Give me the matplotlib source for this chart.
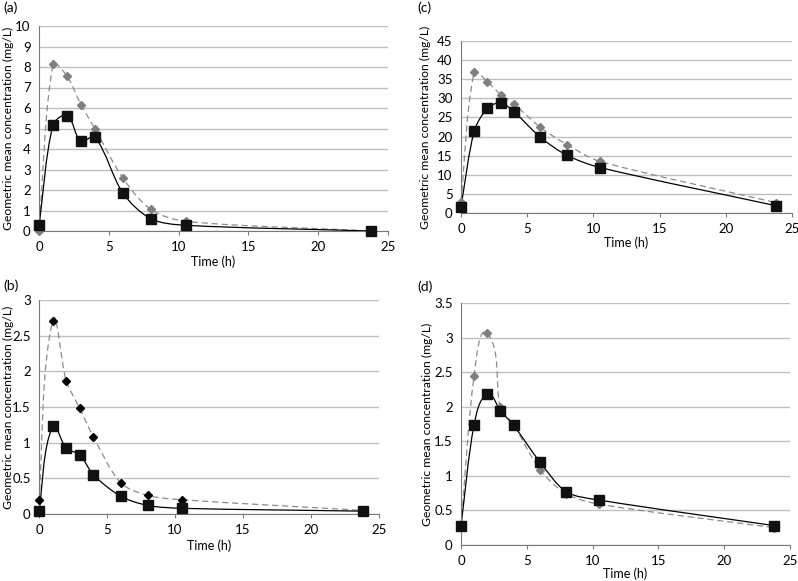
import numpy as np
import matplotlib.pyplot as plt
from matplotlib.path import Path
from matplotlib.patches import PathPatch

plt.rcParams['font.family'] = ['Lato', 'DejaVu Sans']

# sampling times (h)
times = [0, 1, 2, 3, 4, 6, 8, 10.5, 23.8]

# (a)
a_square = [0.28, 5.16, 5.62, 4.38, 4.59, 1.86, 0.6, 0.28, 0.0]
a_diamond = [0.0, 8.14, 7.56, 6.17, 5.0, 2.59, 1.06, 0.47, 0.0]
# (b)
b_square = [0.04, 1.23, 0.92, 0.83, 0.55, 0.25, 0.12, 0.08, 0.04]
b_diamond = [0.19, 2.71, 1.87, 1.48, 1.08, 0.44, 0.26, 0.2, 0.05]
# (c)
c_square = [1.7, 21.4, 27.4, 28.8, 26.5, 19.8, 15.1, 11.9, 1.9]
c_diamond = [3.0, 36.9, 34.3, 31.0, 28.5, 22.4, 17.9, 13.5, 2.7]
# (d)
d_square = [0.28, 1.74, 2.18, 1.94, 1.73, 1.2, 0.77, 0.65, 0.28]
d_diamond = [0.28, 2.45, 3.06, 1.99, 1.74, 1.09, 0.74, 0.59, 0.25]

panels = [
    # squares, diamonds, ymax, ystep, diamond colour,
    # axes rect (px: left, top, right, bottom), ylabel x (px), xlabel y (px)
    (a_square, a_diamond, 10, 1, '#7f7f7f', (39, 26, 388, 231), 8, 262),
    (b_square, b_diamond, 3, 0.5, '#000000', (39, 300, 379, 514), 8, 546),
    (c_square, c_diamond, 45, 5, '#7f7f7f', (461, 41, 792, 213), 425, 243),
    (d_square, d_diamond, 3.5, 0.5, '#7f7f7f', (461, 303, 790, 545), 427, 574),
]

W, H = 798, 581


def smooth_path(x, y, sx, sy, k=0.3):
    # smoothed line like Excel: cubic Bezier segments, tangents from neighbours,
    # handle length tied to each segment's length (computed in pixel space)
    px = np.asarray(x, float) / sx
    py = np.asarray(y, float) / sy
    pts = np.column_stack([px, py])
    n = len(pts)
    tang = []
    for i in range(n):
        d = pts[min(i + 1, n - 1)] - pts[max(i - 1, 0)]
        tang.append(d / np.hypot(*d))
    verts = [tuple(pts[0])]
    codes = [Path.MOVETO]
    for i in range(n - 1):
        L = np.hypot(*(pts[i + 1] - pts[i]))
        c1 = pts[i] + tang[i] * L * k
        c2 = pts[i + 1] - tang[i + 1] * L * k
        verts += [tuple(c1), tuple(c2), tuple(pts[i + 1])]
        codes += [Path.CURVE4] * 3
    verts = [(vx * sx, vy * sy) for vx, vy in verts]
    return Path(verts, codes)


fig = plt.figure(figsize=(W / 100, H / 100), dpi=100)

for sq, di, ymax, ystep, dcol, (l, t, r, b), ylab_x, xlab_y in panels:
    ax = fig.add_axes([l / W, 1 - b / H, (r - l) / W, (b - t) / H])
    ax.set_xlim(0, 25)
    ax.set_ylim(0, ymax)
    ax.set_xticks(range(0, 26, 5))
    yt = np.arange(0, ymax + ystep / 2, ystep)
    ax.set_yticks(yt)
    ax.set_yticklabels([f'{v:g}' for v in yt])
    ax.yaxis.grid(True, color='#bfbfbf', linewidth=1)
    ax.set_axisbelow(True)
    for s in ['top', 'right']:
        ax.spines[s].set_visible(False)
    for s in ['left', 'bottom']:
        ax.spines[s].set_color('#7a7a7a')
    ax.tick_params(axis='both', labelsize=9.5, color='#7a7a7a')
    ax.tick_params(axis='x', length=3, pad=4)
    ax.tick_params(axis='y', length=0, pad=6)

    # pixel size of one data unit, so the smoothing is done on screen proportions
    sx = 25 / (r - l)
    sy = ymax / (b - t)
    ax.add_patch(PathPatch(smooth_path(times, di, sx, sy), fill=False,
                           edgecolor='#8c8c8c', linestyle=(0, (5, 3)), linewidth=0.9,
                           clip_on=False))
    ax.add_patch(PathPatch(smooth_path(times, sq, sx, sy), fill=False,
                           edgecolor='black', linewidth=0.9, clip_on=False))
    ax.plot(times, di, linestyle='none', marker='D', markersize=4.5,
            color=dcol, clip_on=False, zorder=3)
    ax.plot(times, sq, linestyle='none', marker='s', markersize=7.5,
            color='#111111', clip_on=False, zorder=4)

    ax.set_xlabel('Time (h)', fontsize=9)
    ax.set_ylabel('Geometric mean concentration (mg/L)', fontsize=8.7)
    ax.xaxis.set_label_coords(0.5, (b - xlab_y) / (b - t))
    ax.yaxis.set_label_coords((ylab_x - l) / (r - l), 0.5)
    ax.xaxis.label.set_va('center')
    ax.yaxis.label.set_va('center')

fig.text(3 / W, 1 - 8 / H, '(a)', fontsize=10, va='center')
fig.text(3 / W, 1 - 286 / H, '(b)', fontsize=10, va='center')
fig.text(417 / W, 1 - 8 / H, '(c)', fontsize=10, va='center')
fig.text(417 / W, 1 - 287 / H, '(d)', fontsize=10, va='center')

fig.savefig('out.png', dpi=100)
